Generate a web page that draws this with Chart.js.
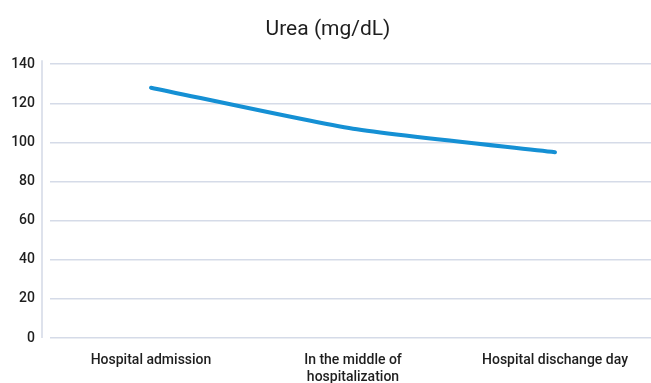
<!DOCTYPE html>
<html>
<head>
<meta charset="utf-8">
<script src="https://cdn.jsdelivr.net/npm/chart.js@4"></script>
<style>
  html, body { margin: 0; padding: 0; background: #fff; overflow: hidden; }
  #wrap { position: relative; width: 658px; height: 383px; }
</style>
</head>
<body>
<div id="wrap"><canvas id="ureaChart"></canvas></div>
<script>
// data
var categories = ['Hospital admission', ['In the middle of', 'hospitalization'], 'Hospital dischange day'];
var ureaValues = [128, 107, 95];
var yTicks = [0, 20, 40, 60, 80, 100, 120, 140];

var fontName = 'Roboto, "Liberation Sans", Arial, sans-serif';

// vertical axis line drawn a bit left of the grid, like the original
var axisLinePlugin = {
    id: 'axisLine',
    beforeDatasetsDraw: function(chart){
        var ca = chart.chartArea;
        var ctx = chart.ctx;
        ctx.save();
        ctx.strokeStyle = '#d3d9e6';
        ctx.lineWidth = 1.5;
        ctx.beginPath();
        ctx.moveTo(ca.left - 8, ca.top - 4);
        ctx.lineTo(ca.left - 8, ca.bottom);
        ctx.stroke();
        ctx.restore();
    }
};

var ctx = document.getElementById('ureaChart').getContext('2d');
var myChart = new Chart(ctx, {
    type: 'line',
    data: {
        labels: categories,
        datasets: [{
            label: 'Urea (mg/dL)',
            data: ureaValues,
            borderColor: '#1590d4',
            borderWidth: 4,
            borderCapStyle: 'round',
            pointRadius: 0,
            tension: 0.2,
            fill: false
        }]
    },
    options: {
        responsive: true,
        maintainAspectRatio: false,
        animation: false,
        layout: { padding: { left: 0, right: 2, top: 0, bottom: 0 } },
        plugins: {
            legend: { display: false },
            tooltip: { enabled: false },
            title: {
                display: true,
                text: 'Urea (mg/dL)',
                color: '#1e1e1e',
                font: { family: fontName, size: 21, weight: 'normal' },
                padding: { top: 17, bottom: 22 }
            }
        },
        scales: {
            x: {
                offset: true,
                grid: { display: false },
                border: { display: false },
                ticks: {
                    color: '#1e1e1e',
                    font: { family: fontName, size: 14, weight: 500 },
                    padding: 6,
                    maxRotation: 0,
                    autoSkip: false
                },
                afterFit: function(scale){ scale.height = 45; }
            },
            y: {
                min: 0,
                max: 140,
                afterBuildTicks: function(scale){
                    scale.ticks = yTicks.map(function(v){ return { value: v }; });
                },
                grid: { color: '#d5dbe8', lineWidth: 1.5, drawTicks: false },
                border: { display: false },
                ticks: {
                    color: '#1e1e1e',
                    font: { family: fontName, size: 14, weight: 500 },
                    padding: 15
                },
                afterFit: function(scale){ scale.width = 50; }
            }
        }
    },
    plugins: [axisLinePlugin]
});
</script>
</body>
</html>
